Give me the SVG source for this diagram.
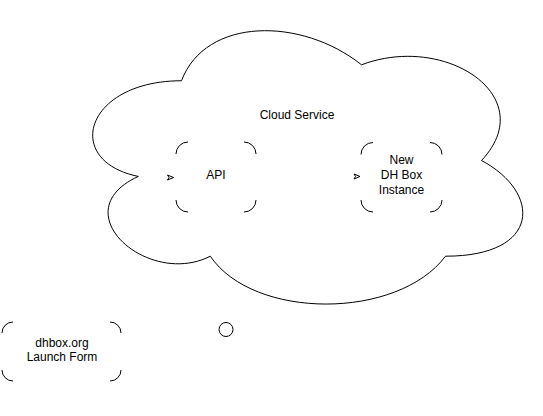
<svg xmlns="http://www.w3.org/2000/svg" width="543" height="416" viewBox="0 0 543 416">
  <style>
    .shape { fill: #ffffff; stroke: #000000; stroke-width: 1; }
    .corner { fill: none; stroke: #000000; stroke-width: 1; }
    .label { font-family: "Liberation Sans", Arial, Helvetica, sans-serif; font-size: 12px; fill: #000000; text-anchor: middle; }
    .head { fill: #ffffff; stroke: #000000; stroke-width: 1; stroke-linejoin: miter; }
  </style>
  <rect x="0" y="0" width="543" height="416" fill="#ffffff"/>

  <!-- Cloud container -->
  <g id="cloud-service">
    <path class="shape" d="M181.5,80.75 C85.5,80.75 61.5,160.5 138.3,176.45 C61.5,211.54 147.9,288.1 210.3,256.2 C253.5,320 397.5,320 445.5,256.2 C541.5,256.2 541.5,192.4 481.5,160.5 C541.5,96.7 445.5,32.9 361.5,64.8 C301.5,16.95 205.5,16.95 181.5,80.75 Z"/>
    <text class="label" x="297" y="119">Cloud Service</text>
  </g>

  <!-- API node: only rounded corners drawn -->
  <g id="api">
    <path class="corner" d="M176,154 A12,12 0 0 1 188,142 M244,142 A12,12 0 0 1 256,154 M256,200 A12,12 0 0 1 244,212 M188,212 A12,12 0 0 1 176,200"/>
    <text class="label" x="216" y="179">API</text>
  </g>

  <!-- New DH Box Instance node -->
  <g id="instance">
    <path class="corner" d="M361,154.5 A12,12 0 0 1 373,142.5 M430,142.5 A12,12 0 0 1 442,154.5 M442,200 A12,12 0 0 1 430,212 M373,212 A12,12 0 0 1 361,200"/>
    <text class="label" x="401.5" y="164">New</text>
    <text class="label" x="401.5" y="179">DH Box</text>
    <text class="label" x="401.5" y="194">Instance</text>
  </g>

  <!-- Launch form node -->
  <g id="launch-form">
    <path class="corner" d="M2,333 A11,11 0 0 1 13,322 M110,322 A11,11 0 0 1 121,333 M121,370 A11,11 0 0 1 110,381 M13,381 A11,11 0 0 1 2,370"/>
    <text class="label" x="62" y="347">dhbox.org</text>
    <text class="label" x="62" y="361">Launch Form</text>
  </g>

  <!-- Small start point -->
  <g id="start">
    <circle class="shape" cx="226" cy="329.5" r="7"/>
  </g>

  <!-- Connectors (arrowheads only) -->
  <g id="connectors">
    <path class="head" d="M167.5,175 L173.5,177.5 L167.5,180 L169,177.5 Z"/>
    <path class="head" d="M354,174 L360,176.5 L354,179 L355.5,176.5 Z"/>
  </g>
</svg>
